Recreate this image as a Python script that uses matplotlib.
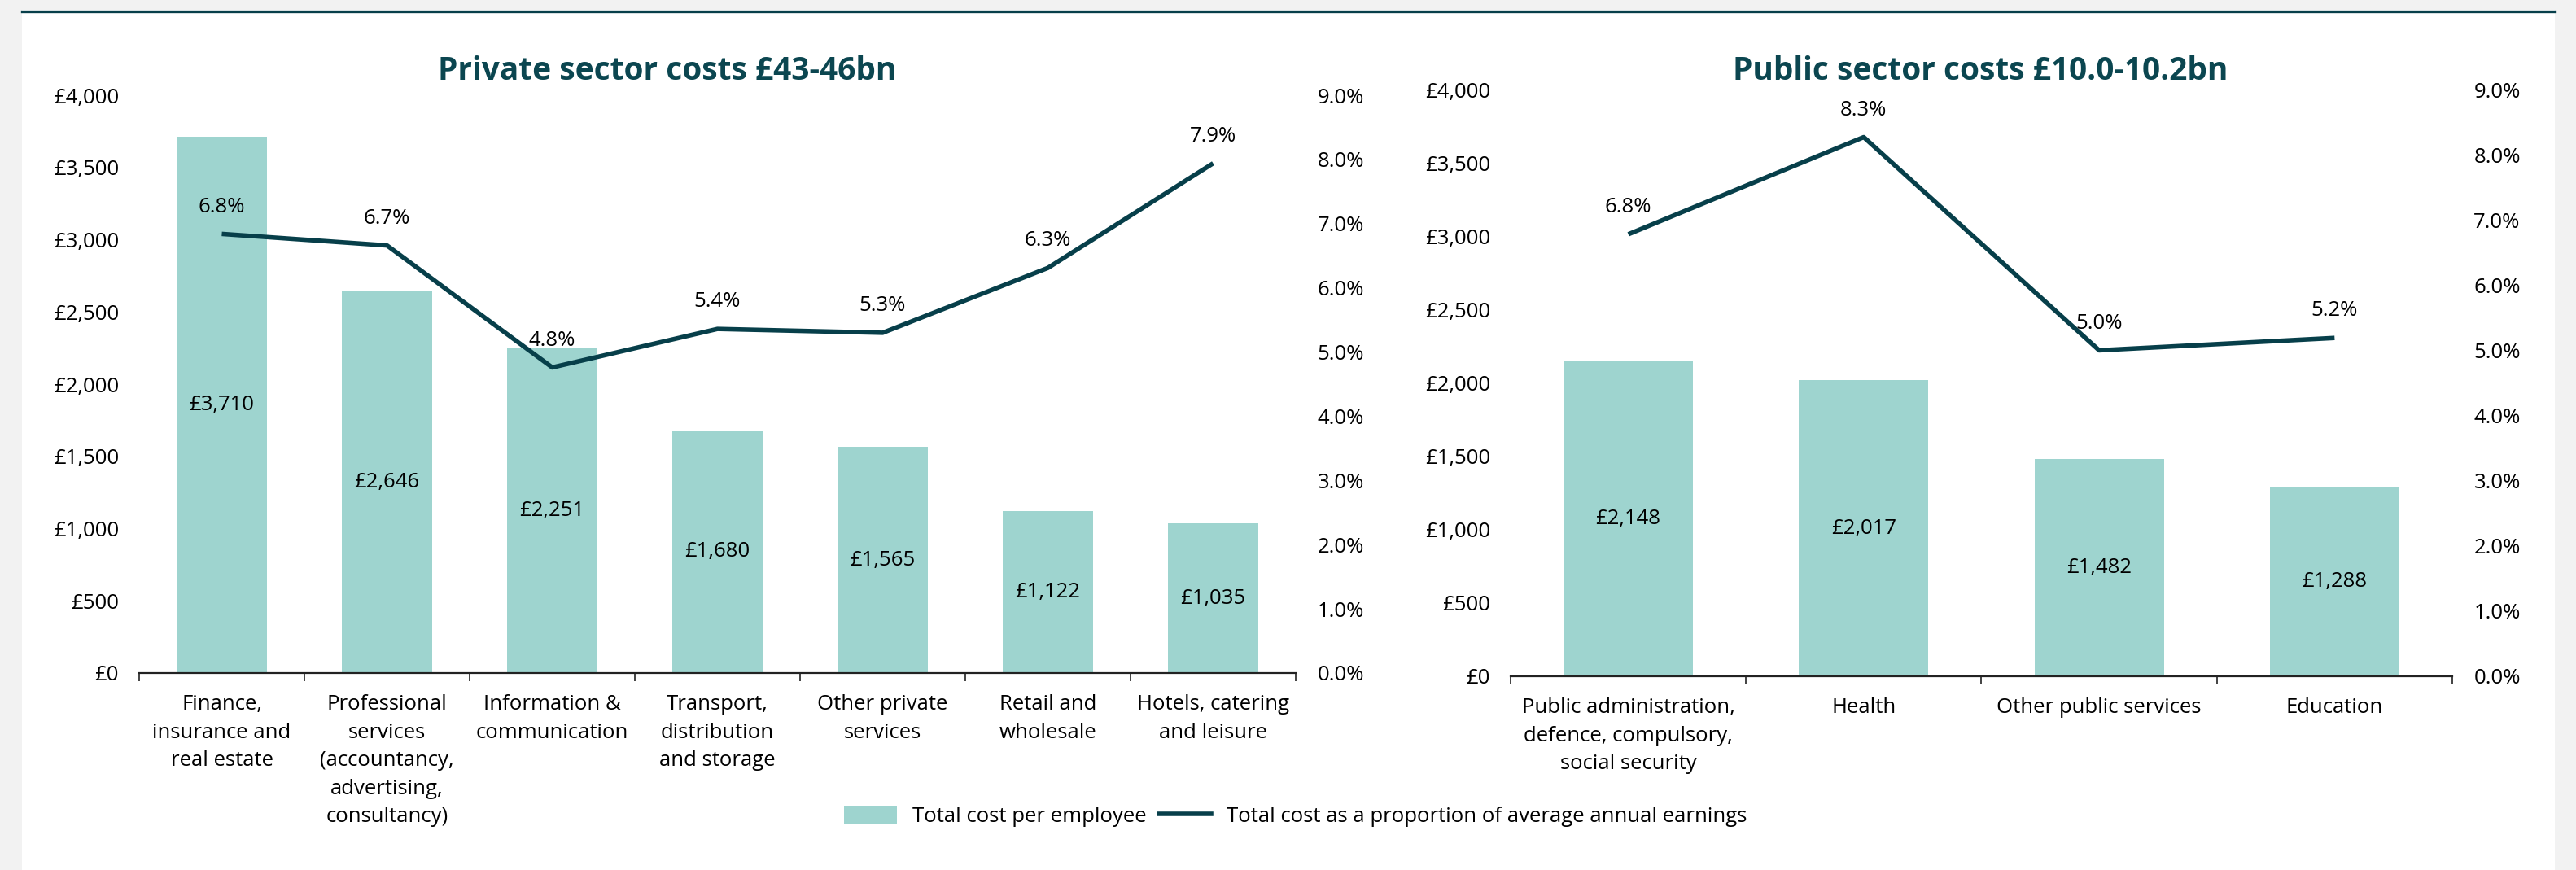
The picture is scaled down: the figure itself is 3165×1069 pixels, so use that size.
#!/usr/bin/env python3
"""Employer cost per employee by sector, private vs public, with cost as share of earnings."""

import matplotlib

matplotlib.use("Agg")
import matplotlib.pyplot as plt
from matplotlib.lines import Line2D
from matplotlib.patches import Patch, Rectangle
from matplotlib.ticker import FuncFormatter, MultipleLocator

plt.rcParams["font.family"] = ["Open Sans", "DejaVu Sans"]

private_sectors = [
    "Finance,\ninsurance and\nreal estate",
    "Professional\nservices\n(accountancy,\nadvertising,\nconsultancy)",
    "Information &\ncommunication",
    "Transport,\ndistribution\nand storage",
    "Other private\nservices",
    "Retail and\nwholesale",
    "Hotels, catering\nand leisure",
]
private_cost = [3710, 2646, 2251, 1680, 1565, 1122, 1035]
private_share = [6.84, 6.66, 4.76, 5.36, 5.30, 6.31, 7.94]

public_sectors = [
    "Public administration,\ndefence, compulsory,\nsocial security",
    "Health",
    "Other public services",
    "Education",
]
public_cost = [2148, 2017, 1482, 1288]
public_share = [6.78, 8.27, 5.00, 5.19]

BAR = "#9ed4cf"
LINE = "#073f4a"
TITLE = "#0b4650"
FS = 18.5


def _draw_panel(ax, sectors, costs, shares, title_x, title):
    xs = list(range(len(sectors)))
    ax.bar(xs, costs, width=0.55, color=BAR, zorder=2)
    for x, c in zip(xs, costs):
        ax.text(x, c / 2, f"£{c:,}", ha="center", va="center", fontsize=FS, zorder=3)

    ax.set_xlim(-0.5, len(sectors) - 0.5)
    ax.set_ylim(0, 4000)
    ax.yaxis.set_major_locator(MultipleLocator(500))
    ax.yaxis.set_major_formatter(FuncFormatter(lambda v, _: f"£{v:,.0f}"))
    ax.set_xticks(xs)
    ax.set_xticklabels(sectors, fontsize=FS, linespacing=1.5)
    ax.set_xticks([x - 0.5 for x in xs] + [len(xs) - 0.5], minor=True)
    ax.tick_params(axis="x", which="major", length=0, pad=19)
    ax.tick_params(axis="x", which="minor", length=7, width=1.2, direction="out", color="#222222")
    ax.tick_params(axis="y", length=0, pad=18, labelsize=FS)
    for side in ("left", "right", "top"):
        ax.spines[side].set_visible(False)
    ax.spines["bottom"].set_linewidth(1.6)
    ax.spines["bottom"].set_color("#222222")
    ax.spines["bottom"].set_zorder(4)

    ax2 = ax.twinx()
    ax2.plot(xs, shares, color=LINE, linewidth=4, solid_capstyle="butt", zorder=3)
    for x, s in zip(xs, shares):
        ax2.annotate(f"{s:.1f}%", (x, s), xytext=(0, 24), textcoords="offset points",
                     ha="center", va="center", fontsize=FS)
    ax2.set_ylim(0, 9)
    ax2.yaxis.set_major_locator(MultipleLocator(1))
    ax2.yaxis.set_major_formatter(FuncFormatter(lambda v, _: f"{v:.1f}%"))
    ax2.tick_params(axis="y", length=0, pad=19, labelsize=FS)
    for side in ("left", "right", "top", "bottom"):
        ax2.spines[side].set_visible(False)

    ax.figure.text(title_x, 0.9186, title, ha="center", va="center",
                   fontsize=28, fontweight="bold", color=TITLE)


def main():
    fig = plt.figure(figsize=(31.65, 10.69), dpi=100, facecolor="#f2f2f2")
    fig.add_artist(Rectangle((27 / 3165, 0), (3139 - 27) / 3165, 1 - 12 / 1069,
                             transform=fig.transFigure, facecolor="white",
                             edgecolor="none", zorder=-10))
    fig.add_artist(Line2D([27 / 3165, 3139 / 3165], [1 - 13.5 / 1069] * 2,
                          transform=fig.transFigure, color=LINE, linewidth=2.4, zorder=-5))

    ax_priv = fig.add_axes([0.05403, 0.22638, 0.44897, 0.66417])
    ax_pub = fig.add_axes([0.58641, 0.22264, 0.36556, 0.67446])
    for ax in (ax_priv, ax_pub):
        ax.set_facecolor("none")

    _draw_panel(ax_priv, private_sectors, private_cost, private_share, 0.259,
                "Private sector costs £43-46bn")
    _draw_panel(ax_pub, public_sectors, public_cost, public_share, 0.7687,
                "Public sector costs £10.0-10.2bn")

    handles = [
        Patch(facecolor=BAR, edgecolor="none", label="Total cost per employee"),
        Line2D([0], [0], color=LINE, linewidth=4, label="Total cost as a proportion of average annual earnings"),
    ]
    fig.legend(handles=handles, loc="center", bbox_to_anchor=(0.503, 0.0616), ncol=2,
               frameon=False, fontsize=FS, handlelength=2.5, handleheight=1.0,
               handletextpad=0.75, columnspacing=0.6)

    fig.savefig("out.png", dpi=100, facecolor=fig.get_facecolor())


if __name__ == "__main__":
    main()
